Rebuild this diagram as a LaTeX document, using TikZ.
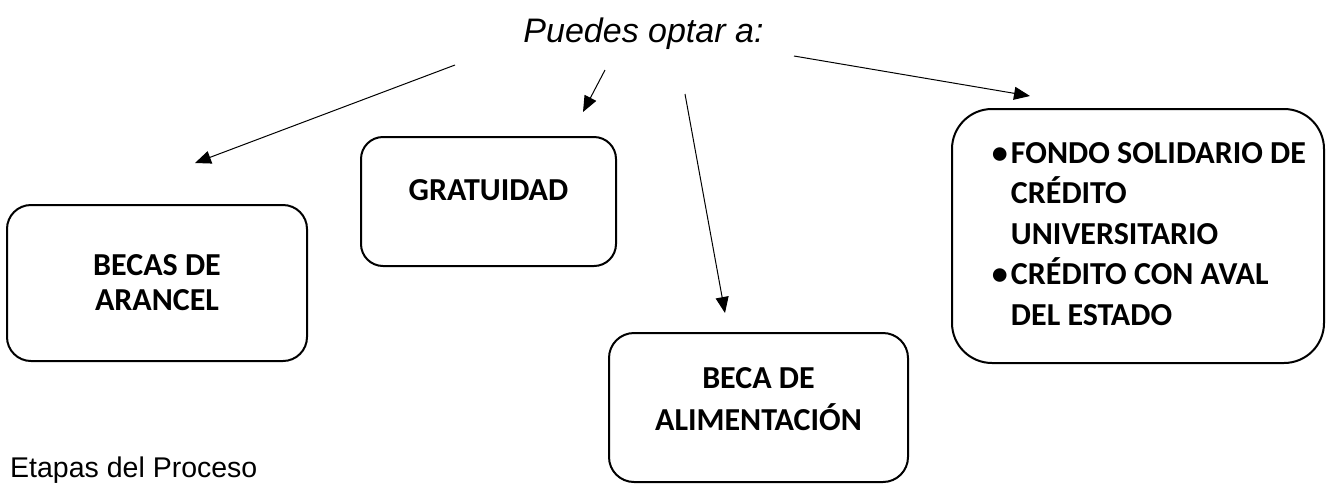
\documentclass[tikz,border=0pt]{standalone}
\usepackage{fontspec}
\setmainfont{Liberation Sans}
\newfontfamily\cajafont{Carlito}
\usetikzlibrary{arrows.meta,shapes}
\tikzset{
         caja/.style={draw,line width=2pt,rounded corners=24pt,align=center,inner sep=0pt,
                      font=\cajafont\bfseries\fontsize{32}{39}\selectfont},
         flecha/.style={line width=1pt,-{Triangle[length=16pt,width=13pt]}}
        }

\begin{document}
\begin{tikzpicture}[x=1pt,y=-1pt]
\useasboundingbox (0,0) rectangle (1326,483);

\node[anchor=base,inner sep=0,font=\itshape\fontsize{34}{40}\selectfont] (titulo) at (643.5,42) {Puedes optar a:}; %title
\node[anchor=base west,inner sep=0,font=\fontsize{28.5}{34}\selectfont] (etapas) at (10,477) {Etapas del Proceso}; %bottom text

%boxes
\node[caja,minimum width=300pt,minimum height=156pt,font=\cajafont\bfseries\fontsize{32}{35}\selectfont] (becas) at (157,283) {BECAS DE\\ARANCEL};
\node[caja,minimum width=255pt,minimum height=129pt,rounded corners=22pt,text height=20.6pt,text depth=23pt] (gratuidad) at (488.5,201.5) {GRATUIDAD};
\node[caja,minimum width=299pt,minimum height=149pt,rounded corners=25pt,text depth=17pt,font=\cajafont\bfseries\fontsize{32}{42}\selectfont] (alimentacion) at (758.5,407.5) {BECA DE\\ALIMENTACIÓN};
\node[caja,minimum width=372pt,minimum height=254pt,rounded corners=40pt,font=\cajafont\bfseries\fontsize{32}{40.5}\selectfont] (fondo) at (1138,236)
  {\begin{tabular}{@{\hspace{22pt}}l@{}l@{}}
   \makebox[19pt][l]{\textbullet} & FONDO SOLIDARIO DE\\
   & CRÉDITO\\
   & UNIVERSITARIO\\
   \makebox[19pt][l]{\textbullet} & CRÉDITO CON AVAL\\
   & DEL ESTADO
   \end{tabular}};

%arrow ends
\coordinate (sBecas) at (455,65);
\coordinate (tBecas) at (195,163);
\coordinate (sGrat) at (605,70);
\coordinate (tGrat) at (583,112);
\coordinate (sAlim) at (685,94);
\coordinate (tAlim) at (725,313);
\coordinate (sFondo) at (794,56);
\coordinate (tFondo) at (1030,96);

\draw[flecha] (sBecas)--(tBecas); %to becas
\draw[flecha] (sGrat)--(tGrat); %to gratuidad
\draw[flecha] (sAlim)--(tAlim); %to alimentacion
\draw[flecha] (sFondo)--(tFondo); %to fondo
\end{tikzpicture}
\end{document}
